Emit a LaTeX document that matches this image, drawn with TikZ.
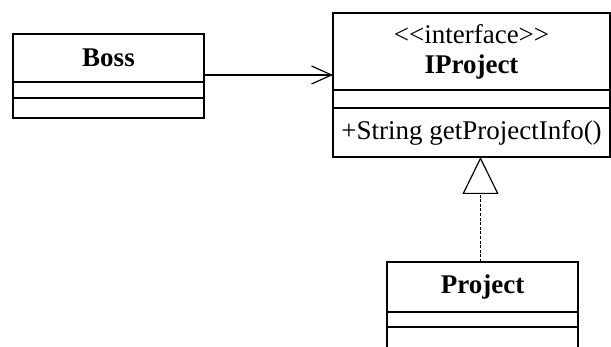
\documentclass[tikz,border=0pt]{standalone}
\usepackage{fontspec}
\setmainfont{Liberation Serif}
\usetikzlibrary{arrows.meta,positioning,calc}

\begin{document}
\begin{tikzpicture}[x=0.5pt,y=-0.5pt,line width=0.8pt,node distance=0pt,
  every node/.style={font=\fontsize{13.5}{16}\selectfont},
  part/.style={draw,inner sep=0pt,outer sep=0pt,align=center},
  assoc/.style={-{Straight Barb[length=10pt,width=9pt]}},
  realize/.style={densely dashed,dash pattern=on 1.5pt off 0.8pt,-{Triangle[open,length=18.5pt,width=18pt]}}]
\clip (0,0) rectangle (611,347);
\fill[white] (0,0) rectangle (611,347);
% Boss
\node[part,minimum width=95.5pt,minimum height=24pt,anchor=north west] (bossN) at (13,34) {\textbf{Boss}};
\node[part,minimum width=95.5pt,minimum height=8pt,below=of bossN] (bossA) {};
\node[part,minimum width=95.5pt,minimum height=10pt,below=of bossA] (bossO) {};
% IProject
\node[part,minimum width=138.5pt,minimum height=38.5pt,anchor=north west] (iprojN) at (333,13) {{<}{<}interface{>}{>}\\[-1pt]\textbf{IProject}};
\node[part,minimum width=138.5pt,minimum height=9pt,below=of iprojN] (iprojA) {};
\node[part,minimum width=138.5pt,minimum height=24.5pt,below=of iprojA] (iprojO) {+String getProjectInfo()};
% Project
\node[part,minimum width=95.5pt,minimum height=25pt,anchor=north west] (projN) at (387,262) {\textbf{Project}};
\node[part,minimum width=95.5pt,minimum height=7.5pt,below=of projN] (projA) {};
\node[part,minimum width=95.5pt,minimum height=14pt,below=of projA] (projO) {};
% links
\draw[assoc,line width=0.6pt] ([yshift=-8.5pt]bossN.east) -- ([yshift=-8.5pt]bossN.east -| iprojN.west);
\draw[realize,line width=0.6pt] ([xshift=-1pt]projN.north) -- ([xshift=-1pt]projN.north |- iprojO.south);
\end{tikzpicture}
\end{document}
